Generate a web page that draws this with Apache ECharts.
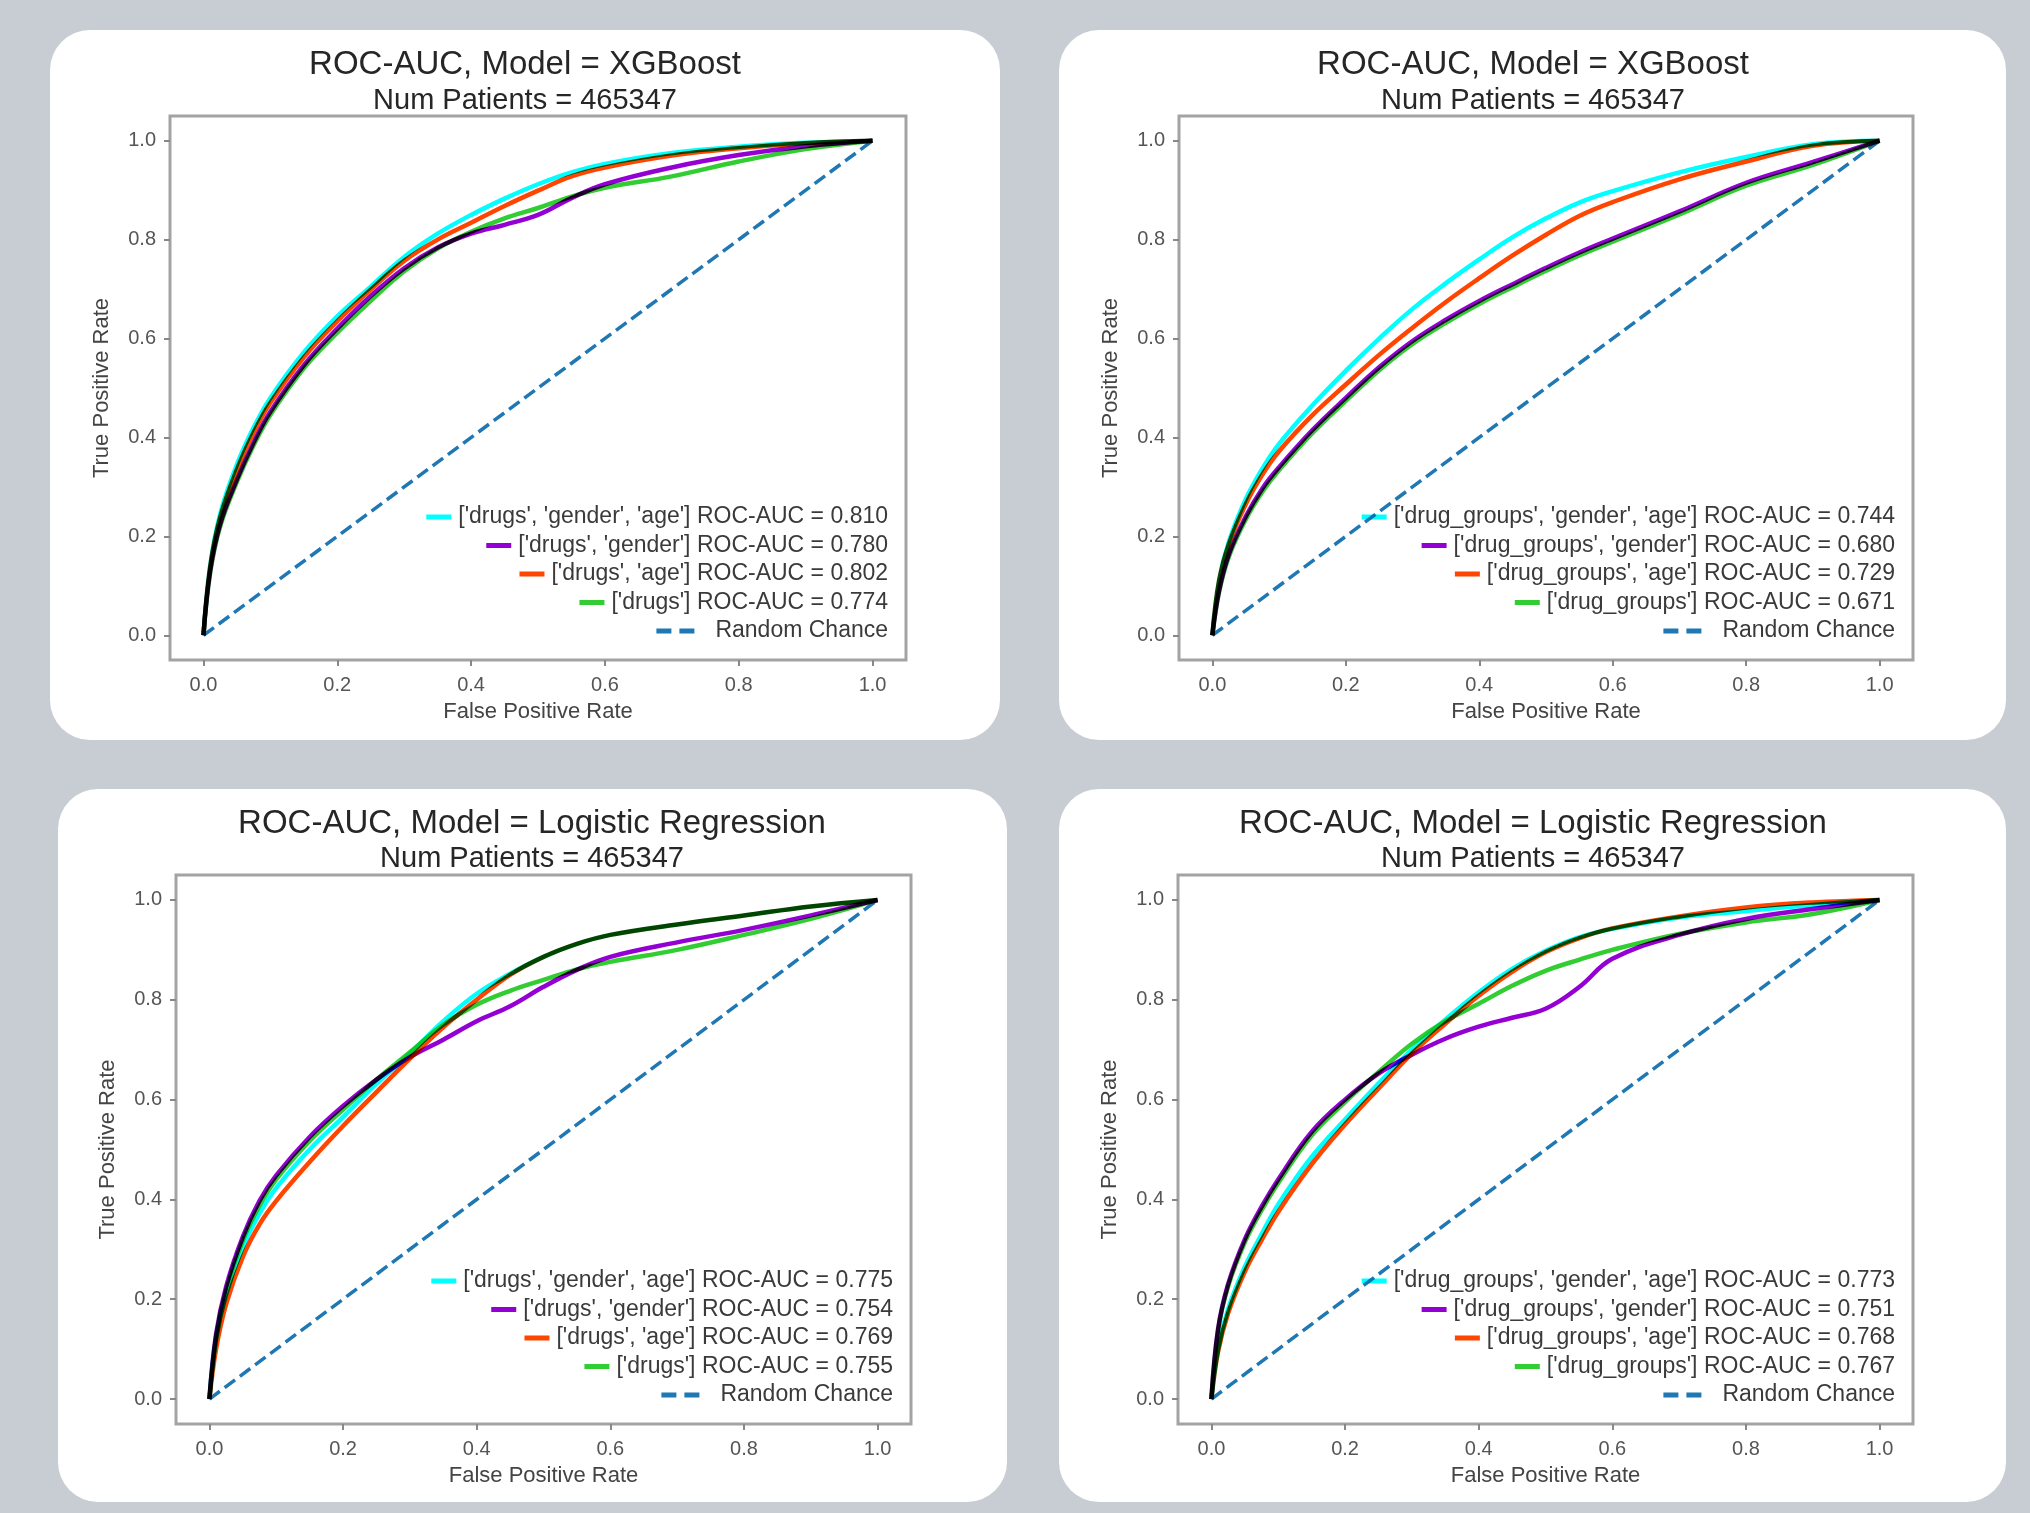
<!DOCTYPE html>
<html>
<head>
<meta charset="utf-8">
<script src="https://cdn.jsdelivr.net/npm/echarts@6/dist/echarts.min.js"></script>
<style>
html, body { margin: 0; padding: 0; background: #ffffff; }
#main { width: 2030px; height: 1513px; }
#main canvas { mix-blend-mode: multiply; }
</style>
</head>
<body>
<div id="main"></div>
<script>
// ---------------- DATA ----------------
const tickValues = [0, 0.2, 0.4, 0.6, 0.8, 1.0];
const tickLabels = ['0.0', '0.2', '0.4', '0.6', '0.8', '1.0'];

const titles = [
  'ROC-AUC, Model = XGBoost',
  'ROC-AUC, Model = XGBoost',
  'ROC-AUC, Model = Logistic Regression',
  'ROC-AUC, Model = Logistic Regression'
];
const subtitle = 'Num Patients = 465347';

const labelsDrugs = ["['drugs', 'gender', 'age']", "['drugs', 'gender']", "['drugs', 'age']", "['drugs']"];
const labelsGroups = ["['drug_groups', 'gender', 'age']", "['drug_groups', 'gender']", "['drug_groups', 'age']", "['drug_groups']"];
const chanceLabel = 'Random Chance';

const aucXgbDrugs  = [0.810, 0.780, 0.802, 0.774];
const aucXgbGroups = [0.744, 0.680, 0.729, 0.671];
const aucLrDrugs   = [0.775, 0.754, 0.769, 0.755];
const aucLrGroups  = [0.773, 0.751, 0.768, 0.767];

// shared false-positive-rate sample points
const fpr = [0, 0.01, 0.025, 0.05, 0.075, 0.1, 0.15, 0.2, 0.25, 0.3, 0.35, 0.4, 0.45, 0.5, 0.55, 0.6, 0.7, 0.8, 0.9, 1.0];
const chanceFpr = [0, 1];
const chanceTpr = [0, 1];

// XGBoost, drugs
const tprXgbDrugsGenderAge = [0, 0.14, 0.245, 0.345, 0.42, 0.48, 0.572, 0.645, 0.705, 0.765, 0.812, 0.85, 0.883, 0.912, 0.936, 0.953, 0.975, 0.988, 0.996, 1];
const tprXgbDrugsGender    = [0, 0.13, 0.225, 0.315, 0.39, 0.452, 0.546, 0.62, 0.686, 0.742, 0.784, 0.812, 0.83, 0.85, 0.884, 0.912, 0.946, 0.971, 0.989, 1];
const tprXgbDrugsAge       = [0, 0.138, 0.238, 0.335, 0.41, 0.47, 0.562, 0.635, 0.699, 0.757, 0.8, 0.834, 0.868, 0.899, 0.928, 0.946, 0.97, 0.985, 0.995, 1];
const tprXgbDrugs          = [0, 0.126, 0.22, 0.31, 0.384, 0.446, 0.54, 0.612, 0.676, 0.736, 0.782, 0.816, 0.843, 0.864, 0.887, 0.905, 0.928, 0.958, 0.983, 1];

// XGBoost, drug groups
const tprXgbGroupsGenderAge = [0, 0.11, 0.19, 0.275, 0.337, 0.387, 0.465, 0.535, 0.6, 0.66, 0.712, 0.76, 0.805, 0.843, 0.875, 0.898, 0.936, 0.967, 0.993, 1];
const tprXgbGroupsGender    = [0, 0.09, 0.165, 0.24, 0.297, 0.34, 0.415, 0.48, 0.542, 0.595, 0.638, 0.676, 0.71, 0.743, 0.774, 0.802, 0.857, 0.915, 0.957, 1];
const tprXgbGroupsAge       = [0, 0.11, 0.185, 0.265, 0.325, 0.372, 0.445, 0.507, 0.567, 0.622, 0.674, 0.722, 0.768, 0.81, 0.848, 0.876, 0.922, 0.958, 0.99, 1];
const tprXgbGroups          = [0, 0.087, 0.16, 0.234, 0.29, 0.334, 0.409, 0.474, 0.536, 0.589, 0.632, 0.67, 0.704, 0.737, 0.768, 0.796, 0.851, 0.909, 0.951, 1];

// Logistic Regression, drugs
const tprLrDrugsGenderAge = [0, 0.12, 0.21, 0.305, 0.372, 0.423, 0.5, 0.565, 0.632, 0.692, 0.757, 0.812, 0.852, 0.886, 0.912, 0.93, 0.951, 0.969, 0.987, 1];
const tprLrDrugsGender    = [0, 0.13, 0.225, 0.325, 0.397, 0.448, 0.525, 0.587, 0.64, 0.685, 0.72, 0.757, 0.787, 0.826, 0.86, 0.886, 0.915, 0.94, 0.969, 1];
const tprLrDrugsAge       = [0, 0.1, 0.19, 0.285, 0.35, 0.397, 0.475, 0.547, 0.615, 0.682, 0.745, 0.8, 0.85, 0.886, 0.912, 0.93, 0.951, 0.969, 0.987, 1];
const tprLrDrugs          = [0, 0.125, 0.218, 0.318, 0.388, 0.44, 0.517, 0.58, 0.64, 0.695, 0.75, 0.79, 0.818, 0.84, 0.861, 0.876, 0.9, 0.93, 0.962, 1];

// Logistic Regression, drug groups
const tprLrGroupsGenderAge = [0, 0.1, 0.18, 0.265, 0.33, 0.39, 0.485, 0.56, 0.632, 0.7, 0.76, 0.815, 0.862, 0.898, 0.925, 0.942, 0.965, 0.978, 0.99, 1];
const tprLrGroupsGender    = [0, 0.14, 0.23, 0.32, 0.385, 0.44, 0.535, 0.6, 0.652, 0.69, 0.722, 0.746, 0.764, 0.782, 0.825, 0.882, 0.93, 0.962, 0.982, 1];
const tprLrGroupsAge       = [0, 0.095, 0.172, 0.255, 0.318, 0.375, 0.47, 0.55, 0.622, 0.692, 0.752, 0.808, 0.856, 0.895, 0.923, 0.943, 0.967, 0.985, 0.995, 1];
const tprLrGroups          = [0, 0.138, 0.226, 0.314, 0.378, 0.433, 0.528, 0.595, 0.655, 0.712, 0.757, 0.792, 0.828, 0.858, 0.88, 0.9, 0.932, 0.955, 0.972, 1];

// ---------------- STYLE / LAYOUT ----------------
const W = 2030;
const FONT = 'Liberation Sans, Arial, sans-serif';
const curveColors = ['#00ffff', '#9400d3', '#ff4500', '#32cd32'];
const chanceColor = '#1f77b4';

const panelDefs = [
  { labels: labelsDrugs,  aucs: aucXgbDrugs,  tprs: [tprXgbDrugsGenderAge, tprXgbDrugsGender, tprXgbDrugsAge, tprXgbDrugs] },
  { labels: labelsGroups, aucs: aucXgbGroups, tprs: [tprXgbGroupsGenderAge, tprXgbGroupsGender, tprXgbGroupsAge, tprXgbGroups] },
  { labels: labelsDrugs,  aucs: aucLrDrugs,   tprs: [tprLrDrugsGenderAge, tprLrDrugsGender, tprLrDrugsAge, tprLrDrugs] },
  { labels: labelsGroups, aucs: aucLrGroups,  tprs: [tprLrGroupsGenderAge, tprLrGroupsGender, tprLrGroupsAge, tprLrGroups] }
];

const layout = [
  { card: [50, 30, 950, 710],   grid: [170, 116, 736, 544],  cx: 525,  ty: 65,  sy: 101 },
  { card: [1059, 30, 947, 710], grid: [1179, 116, 734, 544], cx: 1533, ty: 65,  sy: 101 },
  { card: [58, 789, 949, 713],  grid: [176, 875, 735, 549],  cx: 532,  ty: 824, sy: 859 },
  { card: [1059, 789, 947, 713],grid: [1178, 875, 735, 549], cx: 1533, ty: 824, sy: 859 }
];
const legendRowOffsets = [143, 114.5, 86, 57.5, 29];
const dashIcon = 'path://M0,0H15V5H0Z M23,0H38V5H23Z';

function tickLabel(v) {
  const i = tickValues.findIndex(t => Math.abs(t - v) < 1e-9);
  return i >= 0 ? tickLabels[i] : '';
}

const grids = [], xAxes = [], yAxes = [], series = [], legends = [], titleList = [], graphics = [];

panelDefs.forEach((pd, p) => {
  const L = layout[p];
  const [gl, gt, gw, gh] = L.grid;
  graphics.push({
    type: 'rect', z: -100, silent: true,
    shape: { x: L.card[0], y: L.card[1], width: L.card[2], height: L.card[3], r: 40 },
    style: { fill: '#ffffff' }
  });
  titleList.push({
    text: titles[p], left: L.cx, top: L.ty, padding: 0,
    textAlign: 'center', textVerticalAlign: 'middle',
    textStyle: { fontFamily: FONT, fontSize: 33, fontWeight: 'normal', color: '#262626' }
  });
  titleList.push({
    text: subtitle, left: L.cx, top: L.sy, padding: 0,
    textAlign: 'center', textVerticalAlign: 'middle',
    textStyle: { fontFamily: FONT, fontSize: 29, fontWeight: 'normal', color: '#262626' }
  });
  grids.push({
    left: gl, top: gt, width: gw, height: gh, show: true,
    backgroundColor: '#ffffff', borderColor: '#a3a3a3', borderWidth: 3
  });
  const axisCommon = {
    type: 'value', gridIndex: p, min: -0.05, max: 1.05,
    axisLine: { show: false, onZero: false }, splitLine: { show: false },
    axisTick: { show: true, length: 6, customValues: tickValues, lineStyle: { color: '#888', width: 2 } },
    axisLabel: { customValues: tickValues, formatter: tickLabel, fontFamily: FONT, fontSize: 20, color: '#555' },
    nameLocation: 'middle',
    nameTextStyle: { fontFamily: FONT, fontSize: 22, color: '#444' }
  };
  xAxes.push(Object.assign({}, axisCommon, {
    name: 'False Positive Rate', nameGap: 41,
    axisLabel: Object.assign({}, axisCommon.axisLabel, { margin: 15 })
  }));
  yAxes.push(Object.assign({}, axisCommon, {
    name: 'True Positive Rate', nameGap: 57,
    axisLabel: Object.assign({}, axisCommon.axisLabel, { margin: 14 })
  }));

  const names = [];
  pd.tprs.forEach((tpr, i) => {
    const name = pd.labels[i] + ' ROC-AUC = ' + pd.aucs[i].toFixed(3);
    names.push(name);
    series.push({
      type: 'line', name, xAxisIndex: p, yAxisIndex: p,
      data: fpr.map((x, k) => [x, tpr[k]]),
      smooth: 0.4,
      showSymbol: false, symbol: 'none',
      color: curveColors[i],
      itemStyle: { color: curveColors[i] },
      lineStyle: { width: 4.5, color: curveColors[i] },
      emphasis: { disabled: true },
      zlevel: i + 1, animation: false
    });
  });
  names.push(chanceLabel);
  series.push({
    type: 'line', name: chanceLabel, xAxisIndex: p, yAxisIndex: p,
    data: chanceFpr.map((x, k) => [x, chanceTpr[k]]),
    showSymbol: false, symbol: 'none',
    color: chanceColor,
    itemStyle: { color: chanceColor },
    lineStyle: { width: 3.5, color: chanceColor, type: [13, 6] },
    emphasis: { disabled: true },
    zlevel: 5, animation: false
  });

  names.forEach((name, r) => {
    const isChance = r === 4;
    legends.push({
      data: [name], selectedMode: false, orient: 'horizontal',
      right: W - (gl + gw - 18),
      top: gt + gh - legendRowOffsets[r] - 11.5,
      padding: 0, itemGap: 0,
      itemWidth: isChance ? 38 : 25, itemHeight: 5,
      icon: isChance ? dashIcon : 'rect',
      itemStyle: { borderWidth: 0 },
      textStyle: { fontFamily: FONT, fontSize: 23, color: '#3a3a3a', padding: [0, 0, 0, isChance ? 16 : 2] }
    });
  });
});

const chart = echarts.init(document.getElementById('main'), null, { renderer: 'canvas' });
chart.setOption({
  backgroundColor: '#c8cdd4',
  animation: false,
  title: titleList,
  graphic: { elements: graphics },
  legend: legends,
  grid: grids,
  xAxis: xAxes,
  yAxis: yAxes,
  series: series
});
</script>
</body>
</html>
